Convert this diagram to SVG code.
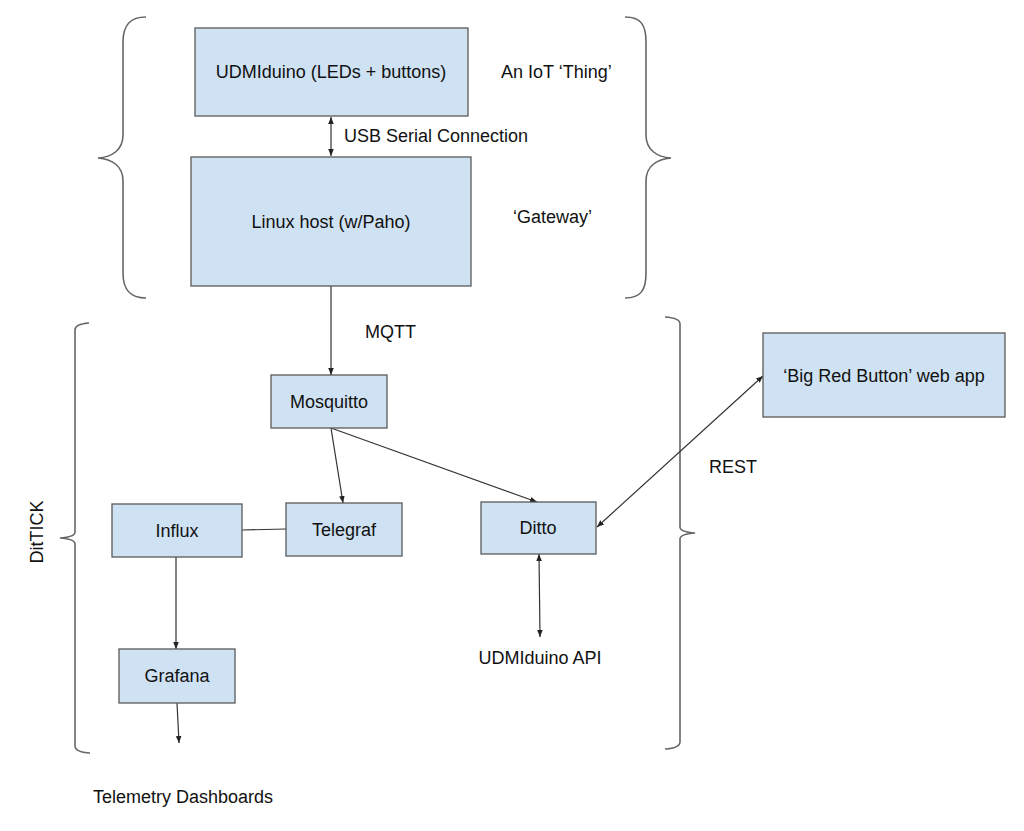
<svg xmlns="http://www.w3.org/2000/svg" width="1024" height="831" viewBox="0 0 1024 831">
<style>
.box{fill:#cfe2f3;stroke:#595959;stroke-width:1.3}
.t{font-family:"Liberation Sans",Arial,sans-serif;font-size:18px;fill:#111}
.c{text-anchor:middle}
.ln{stroke:#333;stroke-width:1.2;fill:none}
.br{stroke:#666;stroke-width:1.6;fill:none}
</style>
<defs>
<marker id="ah" viewBox="0 0 10 10" refX="10" refY="5" markerWidth="7" markerHeight="7" orient="auto-start-reverse" markerUnits="userSpaceOnUse">
<path d="M0,1 L10,5 L0,9 z" fill="#222"/>
</marker>
</defs>
<rect width="1024" height="831" fill="#fff"/>
<g id="braces">
<path class="br" d="M146,17 C130,17 123,25 123,42 L123,135 C123,150 112,157 98,158 C112,159 123,166 123,181 L123,273 C123,290 130,298 146,298"/>
<path class="br" d="M625,17 C641,17 646,25 646,42 L646,135 C646,150 657,157 671,158 C657,159 646,166 646,181 L646,273 C646,290 641,298 625,298"/>
<path class="br" d="M89,323 Q75,324 75,330 L75,532 Q75,537 60,538 Q75,539 75,544 L75,746 Q75,752 90,753"/>
<path class="br" d="M665,317 Q680,318 680,324 L680,527 Q680,532 695,533 Q680,534 680,539 L680,742 Q680,748 665,749"/>
</g>
<g id="connectors">
<line class="ln" x1="331" y1="117" x2="331" y2="156" marker-start="url(#ah)" marker-end="url(#ah)"/>
<line class="ln" x1="331" y1="286" x2="331" y2="375" marker-end="url(#ah)"/>
<line class="ln" x1="331" y1="428" x2="343" y2="503" marker-end="url(#ah)"/>
<line class="ln" x1="331" y1="428" x2="537" y2="502" marker-end="url(#ah)"/>
<line class="ln" x1="242" y1="530" x2="286" y2="529"/>
<line class="ln" x1="176" y1="557" x2="176" y2="649" marker-end="url(#ah)"/>
<line class="ln" x1="177" y1="703" x2="179" y2="743" marker-end="url(#ah)"/>
<line class="ln" x1="539" y1="554" x2="540" y2="637" marker-start="url(#ah)" marker-end="url(#ah)"/>
<line class="ln" x1="763" y1="376" x2="597" y2="527" marker-start="url(#ah)" marker-end="url(#ah)"/>
</g>
<g id="udmiduino">
<rect class="box" x="195" y="28" width="273" height="88"/>
<text class="t c" x="331" y="78">UDMIduino (LEDs + buttons)</text>
</g>
<g id="linux">
<rect class="box" x="191" y="157" width="280" height="129"/>
<text class="t c" x="331" y="228">Linux host (w/Paho)</text>
</g>
<g id="mosquitto">
<rect class="box" x="271" y="375" width="116" height="53"/>
<text class="t c" x="329" y="408">Mosquitto</text>
</g>
<g id="influx">
<rect class="box" x="112" y="504" width="130" height="53"/>
<text class="t c" x="177" y="537">Influx</text>
</g>
<g id="telegraf">
<rect class="box" x="286" y="503" width="116" height="53"/>
<text class="t c" x="344" y="536">Telegraf</text>
</g>
<g id="ditto">
<rect class="box" x="481" y="502" width="115" height="52"/>
<text class="t c" x="538" y="534">Ditto</text>
</g>
<g id="grafana">
<rect class="box" x="119" y="649" width="116" height="54"/>
<text class="t c" x="177" y="682">Grafana</text>
</g>
<g id="bigredbutton">
<rect class="box" x="763" y="333" width="242" height="84"/>
<text class="t c" x="884" y="382">‘Big Red Button’ web app</text>
</g>
<g id="labels">
<text class="t" x="501" y="78">An IoT ‘Thing’</text>
<text class="t" x="344" y="142">USB Serial Connection</text>
<text class="t" x="513" y="223">‘Gateway’</text>
<text class="t" x="365" y="338">MQTT</text>
<text class="t" x="709" y="473">REST</text>
<text class="t c" x="540" y="664">UDMIduino API</text>
<text class="t" x="93" y="803">Telemetry Dashboards</text>
<text class="t c" transform="translate(43,532) rotate(-90)">DitTICK</text>
</g>
</svg>
